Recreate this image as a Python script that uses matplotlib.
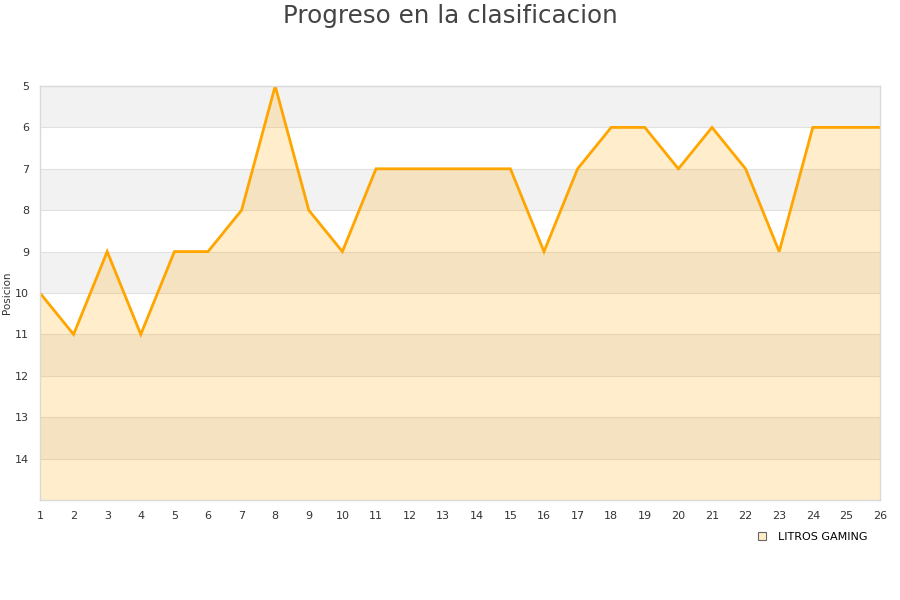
import matplotlib
matplotlib.use("Agg")
import matplotlib.pyplot as plt
from matplotlib.lines import Line2D

jornadas = list(range(1, 27))
posiciones = [10, 11, 9, 11, 9, 9, 8, 5, 8, 9, 7, 7, 7, 7, 7, 9, 7, 6, 6, 7, 6, 7, 9, 6, 6, 6]
yticks = list(range(5, 15))
serie = "LITROS GAMING"

fig = plt.figure(figsize=(9, 6), dpi=100)
ax = fig.add_axes([40/900, 1-500/600, 840/900, 414/600])

ax.set_xlim(1, 26)
ax.set_ylim(15, 5)

# alternating bands
for i, y0 in enumerate(range(5, 15)):
    if i % 2 == 0:
        ax.axhspan(y0, y0 + 1, color="#f2f2f2", zorder=0, lw=0)
for y in range(6, 15):
    ax.axhline(y, color="#e0e0e0", lw=0.8, zorder=0.5)

ax.fill_between(jornadas, posiciones, 15, color="#ffa500", alpha=0.2, lw=0, zorder=1)
ax.plot(jornadas, posiciones, color="#ffa500", lw=2, zorder=2, solid_joinstyle="miter")

ax.set_xticks(jornadas)
ax.set_yticks(yticks)
ax.tick_params(axis="x", length=0, labelsize=8, colors="#333333", pad=8)
ax.tick_params(axis="y", length=0, labelsize=8, colors="#333333", pad=8)
for s in ax.spines.values():
    s.set_color("#d9d9d9")
    s.set_linewidth(1)

ax.set_ylabel("Posicion", fontsize=7.5, color="#333333")
ax.yaxis.set_label_coords(-28/840, 0.5)
fig.text(0.5, 1-16/600, "Progreso en la clasificacion", ha="center", va="center",
         fontsize=17.7, color="#444444")

handle = Line2D([], [], marker="s", ls="none", markersize=6,
                markerfacecolor="#ffecc8", markeredgecolor="#666666", markeredgewidth=0.8)
fig.legend([handle], [serie], loc="center left", bbox_to_anchor=(746/900, 1-537/600),
           frameon=False, fontsize=8, handletextpad=0.5, borderaxespad=0)

fig.savefig("out.png", dpi=100)
